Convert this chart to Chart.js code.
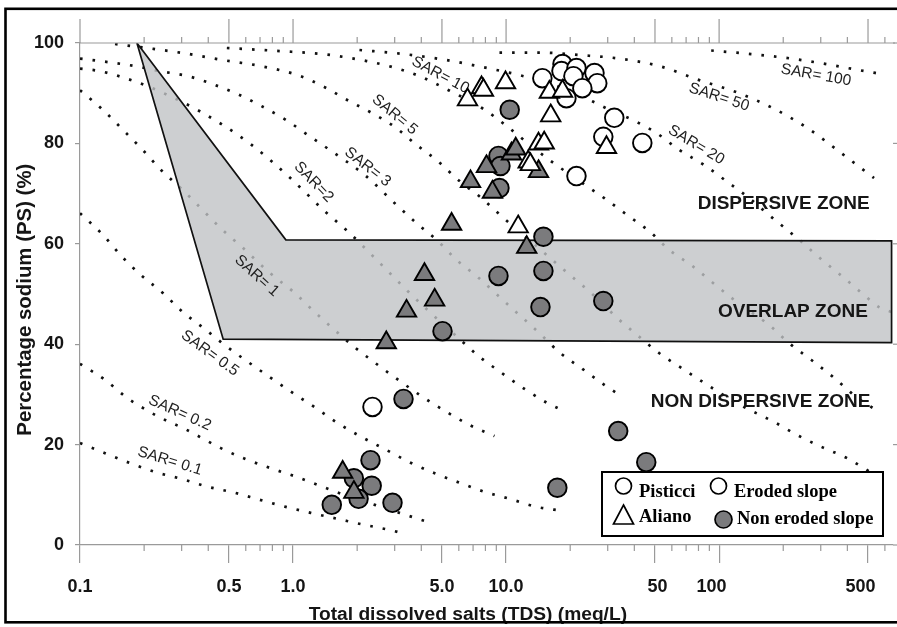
<!DOCTYPE html>
<html>
<head>
<meta charset="utf-8">
<title>Percentage sodium vs TDS</title>
<script src="https://cdn.jsdelivr.net/npm/chart.js@4.4.1/dist/chart.umd.min.js"></script>
<style>
html,body{margin:0;padding:0;background:#ffffff;}
#wrap{width:897px;height:627px;}
canvas{display:block;}
</style>
</head>
<body>
<div id="wrap"><canvas id="chart" width="897" height="627"></canvas></div>
<script>
// ---------- tick labels ----------
const xTickValues = [0.1, 0.5, 1, 5, 10, 50, 100, 500];
const xTickLabels = ['0.1', '0.5', '1.0', '5.0', '10.0', '\u00A050', '100\u00A0\u00A0\u00A0', '500\u00A0\u00A0\u00A0'];
const xMinorTicks = [0.2,0.3,0.4,0.6,0.7,0.8,0.9,2,3,4,6,7,8,9,20,30,40,60,70,80,90,200,300,400,600];
const yTickValues = [0, 20, 40, 60, 80, 100];

// ---------- samples (TDS meq/L, PS %) ----------
const pisticciErodedTDS = [14.8, 18.4, 18.2, 21.4, 20.7, 26.0, 26.8, 22.8, 19.2, 32.2, 28.6, 43.6, 21.4, 2.36];
const pisticciErodedPS  = [93.0, 95.8, 94.4, 95.0, 93.4, 94.0, 92.0, 91.0, 89.0, 85.1, 81.3, 80.1, 73.5, 27.5];

const pisticciNonErodedTDS = [10.4, 9.21, 9.41, 9.31, 14.97, 14.97, 9.21, 14.5, 28.6, 5.03, 3.30, 33.6, 45.5, 17.4, 2.31, 1.93, 2.34, 2.03, 1.52, 2.93];
const pisticciNonErodedPS  = [86.7, 77.5, 75.5, 71.1, 61.4, 54.6, 53.6, 47.4, 48.6, 42.6, 29.1, 22.7, 16.5, 11.4, 16.9, 13.3, 11.8, 9.2, 8.0, 8.4];

const alianoErodedTDS = [6.59, 7.67, 7.83, 9.94, 15.97, 18.4, 16.2, 14.2, 15.1, 12.7, 13.0, 29.6, 11.4];
const alianoErodedPS  = [88.7, 91.1, 90.6, 92.1, 90.2, 90.4, 85.5, 79.9, 80.1, 76.3, 75.8, 79.2, 63.4];

const alianoNonErodedTDS = [10.6, 11.1, 8.09, 6.81, 8.63, 14.2, 5.55, 12.5, 4.14, 4.62, 3.41, 2.74, 1.71, 1.93];
const alianoNonErodedPS  = [77.9, 78.9, 75.4, 72.4, 70.3, 74.4, 63.9, 59.3, 53.9, 48.8, 46.6, 40.3, 14.5, 10.5];

// ---------- SAR iso-lines: [TDS, PS] ----------
const sar01 = [[0.1,20.3],[0.131,18.3],[0.172,16.3],[0.227,14.5],[0.304,13.1],[0.398,11.6],[0.533,10.4],[0.698,9.0],[0.924,7.6],[1.21,6.4],[1.62,5.2],[2.17,4.0],[2.84,3.0],[3.23,2.4]];
const sar02 = [[0.1,36.1],[0.131,32.9],[0.164,29.5],[0.187,27.9],[0.240,25.3],[0.311,23.1],[0.458,19.3],[0.600,17.1],[0.786,15.3],[1.05,13.5],[1.38,11.6],[1.84,9.6],[2.42,8.0],[3.16,6.4],[4.14,4.8]];
const sar05 = [[0.1,66.1],[0.128,61.8],[0.156,57.6],[0.193,53.8],[0.245,50.2],[0.304,46.4],[0.386,43.0],[0.479,39.8],[0.613,36.5],[0.786,33.3],[0.997,30.3],[1.28,27.3],[1.62,24.3],[2.10,21.5],[2.75,18.9],[3.52,16.5],[4.62,14.3],[6.05,12.4],[7.92,10.6],[10.4,9.2],[13.9,7.6],[18.4,6.8]];
const sar1  = [[0.1,90.6],[0.128,86.7],[0.159,82.7],[0.197,78.7],[0.240,74.7],[0.304,70.7],[0.369,67.1],[0.458,63.1],[0.581,59.2],[0.778,54.2],[1.018,50.2],[1.264,46.4],[1.569,42.8],[1.946,39.4],[2.495,35.9],[3.164,32.7],[4.055,29.5],[5.26,26.5],[6.74,23.9],[8.82,21.7]];
const sar2  = [[0.1,94.9],[0.124,94.4],[0.163,93.0],[0.213,91.2],[0.365,86.4],[0.626,80.0],[0.965,73.2],[1.408,66.5],[1.805,62.5],[2.24,58.6],[2.78,54.6],[3.45,50.6],[4.28,46.8],[5.92,41.4],[7.50,37.5],[9.52,34.3],[12.2,31.1],[15.6,28.3],[17.8,27.1]];
const sar3  = [[0.1,96.9],[0.135,96.2],[0.181,95.4],[0.237,94.4],[0.321,93.4],[0.420,91.8],[0.550,89.8],[0.706,87.5],[0.924,84.7],[1.172,81.7],[1.486,78.7],[2.17,73.7],[3.0,68.1],[3.80,64.1],[4.77,60.6],[5.85,56.8],[7.26,53.6],[9.11,49.8],[11.56,45.8],[14.34,42.2],[17.79,38.4],[22.8,35.1],[28.9,31.9],[32.9,30.3]];
const sar5  = [[0.146,99.8],[0.206,99.0],[0.304,98.0],[0.468,96.6],[0.706,95.4],[1.052,93.6],[1.408,91.2],[1.805,88.6],[2.289,86.3],[3.0,83.3],[3.80,79.7],[4.77,76.5],[6.05,72.5],[7.67,69.1],[9.52,65.5],[13.9,59.5],[19.8,53.9],[26.0,49.6],[32.9,45.4],[41.3,41.8],[52.4,38.2],[66.4,35.3],[85.1,32.3],[124.2,28.0],[181.3,24.5],[237.4,21.7],[304,19.5],[398.7,17.3],[522,14.3]];
const sar10 = [[0.489,99.0],[0.866,98.4],[1.439,97.7],[2.216,96.4],[2.934,95.2],[3.926,93.4],[5.43,90.5],[7.74,87.0],[10.04,83.5],[12.6,80.1],[15.97,76.7],[22.8,72.1],[28.9,69.1],[37.1,65.7],[47.0,62.5],[58.3,58.8],[74.8,55.6],[94.9,52.0],[120.3,48.5],[171.8,43.8],[213.2,40.2],[270.3,36.9],[346.4,33.3],[439.5,29.5],[545,26.9]];
const sar20 = [[2.05,98.6],[3.16,97.9],[5.26,96.6],[6.96,95.6],[9.31,94.5],[11.56,93.6],[15.1,92.2],[19.8,90.5],[25.4,88.4],[30.5,86.7],[39.1,84.7],[50.7,82.1],[65.0,78.7],[85.1,75.7],[108,72.5],[138.4,69.1],[171.8,65.7],[237.4,60.8],[304,56.8],[386,53.2],[478.6,49.8],[563,47.4],[655,46.3]];
const sar50 = [[9.31,98.1],[14.34,98.1],[22.08,97.6],[34.0,96.9],[52.4,95.4],[80.7,92.6],[124.2,90.0],[177.4,87.1],[258.8,83.1],[373.6,78.1],[533.7,73.1]];
const sar100 = [[91.8,98.5],[141.4,97.8],[217.8,96.9],[328,95.7],[439.5,94.7],[582,93.8]];

// overlap zone outline [TDS, PS]
const overlapZone = [[0.185,100],[0.925,60.8],[645,60.6],[645,40.3],[0.47,41.0],[0.185,100]];

// ---------- annotation text ----------
const sarLabels = [
  {t:'SAR= 0.1', x:0.264, y:16.7, a:17},
  {t:'SAR= 0.2', x:0.294, y:26.3, a:24},
  {t:'SAR= 0.5', x:0.407, y:38.2, a:36},
  {t:'SAR= 1',   x:0.676, y:53.6, a:42},
  {t:'SAR=2',    x:1.25,  y:72.3, a:46},
  {t:'SAR= 3',   x:2.24,  y:75.3, a:38},
  {t:'SAR= 5',   x:3.0,   y:85.7, a:40},
  {t:'SAR= 10',  x:4.92,  y:93.6, a:28},
  {t:'SAR= 20',  x:78.1,  y:79.7, a:31},
  {t:'SAR= 50',  x:100,   y:89.2, a:18},
  {t:'SAR= 100', x:285,   y:93.6, a:10}
];
const zoneLabels = [
  {t:'DISPERSIVE ZONE', x:201, y:67.9},
  {t:'OVERLAP ZONE', x:222, y:46.5},
  {t:'NON DISPERSIVE ZONE', x:156.7, y:28.6}
];

// ---------- helpers ----------
const SANS = '"Liberation Sans", Arial, Helvetica, sans-serif';
const SERIF = '"Liberation Serif", "Times New Roman", serif';
const AXIS = '#9a9a9a';
const toXY = arr => arr.map(([x, y]) => ({x, y}));
const zip = (xs, ys) => xs.map((x, i) => ({x, y: ys[i]}));

function curve(label, arr) {
  return {
    type: 'line', label, data: toXY(arr),
    borderColor: '#111111', borderWidth: 2.7, borderDash: [2.6, 10], borderCapStyle: 'butt',
    pointRadius: 0, pointHoverRadius: 0, cubicInterpolationMode: 'monotone', fill: false, order: 5
  };
}
function markers(label, xs, ys, style, fillColor, order) {
  const r = style === 'triangle' ? 11.2 : 9.3;
  return {
    type: 'scatter', label, data: zip(xs, ys), pointStyle: style,
    pointRadius: r, pointHoverRadius: r,
    backgroundColor: fillColor, borderColor: '#000', borderWidth: 1.9, order
  };
}

const decor = {
  id: 'decor',
  afterDatasetDraw(chart, args) {
    const ds = chart.data.datasets[args.index];
    if (ds.label !== 'overlap') return;
    const {ctx, scales: {x, y}} = chart;
    ctx.save();
    ctx.fillStyle = '#1e1e1e';
    ctx.font = '15.5px ' + SANS;
    ctx.textAlign = 'center';
    ctx.textBaseline = 'middle';
    sarLabels.forEach(l => {
      ctx.save();
      ctx.translate(x.getPixelForValue(l.x), y.getPixelForValue(l.y));
      ctx.rotate(l.a * Math.PI / 180);
      ctx.fillText(l.t, 0, 0);
      ctx.restore();
    });
    ctx.fillStyle = '#161616';
    ctx.font = 'bold 19px ' + SANS;
    zoneLabels.forEach(l => ctx.fillText(l.t, x.getPixelForValue(l.x), y.getPixelForValue(l.y)));
    ctx.restore();
  },
  afterDraw(chart) {
    const {ctx, chartArea: a, scales: {x, y}} = chart;
    ctx.save();
    ctx.strokeStyle = AXIS;
    ctx.lineWidth = 1.2;
    const seg = (x1, y1, x2, y2) => { ctx.beginPath(); ctx.moveTo(x1, y1); ctx.lineTo(x2, y2); ctx.stroke(); };
    // top axis
    seg(a.left, a.top, a.right + 2, a.top);
    xTickValues.forEach(v => { const p = x.getPixelForValue(v); seg(p, a.top, p, a.top - 24); });
    xMinorTicks.forEach(v => {
      const p = x.getPixelForValue(v);
      if (p > a.right) return;
      seg(p, a.top, p, a.top - 6);
      seg(p, a.bottom, p, a.bottom + 6);
    });
    // right stubs
    yTickValues.forEach(v => { const p = y.getPixelForValue(v); seg(a.right, p, a.right + 5, p); });

    // legend box
    const L = 602, T = 472, W = 281, H = 64;
    ctx.fillStyle = '#fff';
    ctx.fillRect(L, T, W, H);
    ctx.strokeStyle = '#000';
    ctx.lineWidth = 2;
    ctx.strokeRect(L, T, W, H);
    ctx.lineWidth = 1.7;
    ctx.beginPath(); ctx.arc(623.5, 486, 8, 0, Math.PI * 2); ctx.fillStyle = '#fff'; ctx.fill(); ctx.stroke();
    ctx.beginPath(); ctx.moveTo(623.5, 505); ctx.lineTo(633.5, 524); ctx.lineTo(613.5, 524); ctx.closePath(); ctx.stroke();
    ctx.beginPath(); ctx.arc(718.5, 486, 8, 0, Math.PI * 2); ctx.fillStyle = '#fff'; ctx.fill(); ctx.stroke();
    ctx.beginPath(); ctx.arc(723.5, 519.5, 8.5, 0, Math.PI * 2); ctx.fillStyle = '#7b7b7d'; ctx.fill(); ctx.stroke();
    ctx.fillStyle = '#000';
    ctx.font = 'bold 18.5px ' + SERIF;
    ctx.textAlign = 'left';
    ctx.textBaseline = 'alphabetic';
    ctx.fillText('Pisticci', 639, 497);
    ctx.fillText('Aliano', 639, 522);
    ctx.fillText('Eroded slope', 734, 497);
    ctx.fillText('Non eroded slope', 737, 524);

    // outer frame
    ctx.lineWidth = 2.6;
    ctx.strokeStyle = '#000';
    ctx.strokeRect(5.5, 8.8, 900, 613.5);
    ctx.restore();
  }
};

const datasets = [
  markers('Aliano eroded', alianoErodedTDS, alianoErodedPS, 'triangle', '#ffffff', 0.1),
  markers('Aliano non eroded', alianoNonErodedTDS, alianoNonErodedPS, 'triangle', '#7b7b7d', 0.2),
  markers('Pisticci eroded', pisticciErodedTDS, pisticciErodedPS, 'circle', '#ffffff', 0.3),
  markers('Pisticci non eroded', pisticciNonErodedTDS, pisticciNonErodedPS, 'circle', '#7b7b7d', 0.4),
  {
    type: 'line', label: 'overlap', data: toXY(overlapZone),
    borderColor: '#111', borderWidth: 1.7, backgroundColor: 'rgba(193,195,198,0.8)',
    fill: 'shape', pointRadius: 0, pointHoverRadius: 0, tension: 0, order: 1
  },
  curve('SAR 0.1', sar01), curve('SAR 0.2', sar02), curve('SAR 0.5', sar05), curve('SAR 1', sar1),
  curve('SAR 2', sar2), curve('SAR 3', sar3), curve('SAR 5', sar5), curve('SAR 10', sar10),
  curve('SAR 20', sar20), curve('SAR 50', sar50), curve('SAR 100', sar100)
];

new Chart(document.getElementById('chart'), {
  type: 'scatter',
  data: {datasets},
  options: {
    responsive: false,
    animation: false,
    devicePixelRatio: 1,
    events: [],
    layout: {autoPadding: false, padding: {left: 8, right: 4, top: 43, bottom: 0}},
    plugins: {legend: {display: false}, tooltip: {enabled: false}},
    scales: {
      x: {
        type: 'logarithmic', position: 'bottom', min: 0.1, max: 655,
        afterBuildTicks: s => { s.ticks = xTickValues.map(v => ({value: v})); },
        afterFit: s => { s.height = 82; s.paddingLeft = 0; s.paddingRight = 0; },
        ticks: {
          autoSkip: false, maxRotation: 0, minRotation: 0, padding: 13,
          color: '#151515', font: {family: SANS, size: 18, weight: 'bold'},
          callback: (v, i) => xTickLabels[i]
        },
        grid: {drawOnChartArea: false, tickLength: 18, color: AXIS, lineWidth: 1.2},
        border: {color: AXIS, width: 1.2},
        title: {
          display: true, text: 'Total dissolved salts (TDS) (meq/L)' + '\u00A0'.repeat(7),
          color: '#151515', font: {family: SANS, size: 19.2, weight: 'bold'},
          padding: {top: 0, bottom: 1}
        }
      },
      y: {
        type: 'linear', position: 'left', min: 0, max: 100,
        afterBuildTicks: s => { s.ticks = yTickValues.map(v => ({value: v})); },
        afterFit: s => { s.width = 72; s.paddingTop = 0; s.paddingBottom = 0; },
        ticks: {padding: 11, color: '#151515', font: {family: SANS, size: 18, weight: 'bold'}},
        grid: {drawOnChartArea: false, tickLength: 5, color: AXIS, lineWidth: 1.2},
        border: {color: AXIS, width: 1.2},
        title: {
          display: true, text: 'Percentage sodium (PS) (%)' + '\u00A0\u00A0',
          color: '#151515', font: {family: SANS, size: 20.4, weight: 'bold'},
          padding: {top: 5, bottom: 0}
        }
      }
    }
  },
  plugins: [decor]
});
</script>
</body>
</html>
